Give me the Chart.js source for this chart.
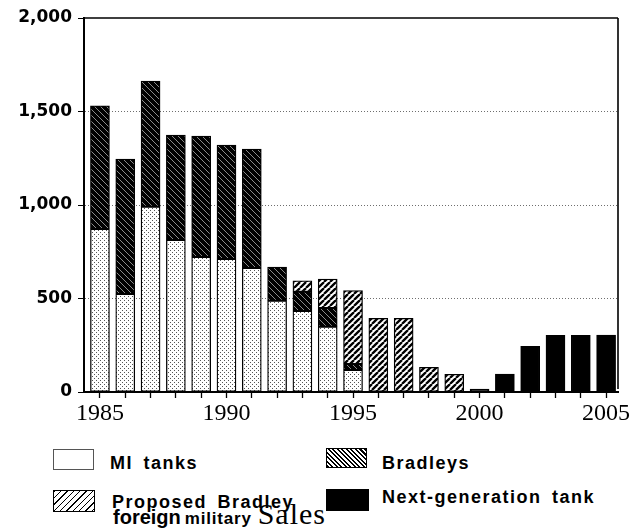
<!DOCTYPE html>
<html>
<head>
<meta charset="utf-8">
<script src="https://cdn.jsdelivr.net/npm/chart.js@4.4.1/dist/chart.umd.min.js"></script>
<style>
  html, body { margin: 0; padding: 0; background: #fff; }
  #wrap { position: relative; width: 633px; height: 530px; overflow: hidden; }
  #c { position: absolute; left: 0; top: 0; }
  .box { position: absolute; box-sizing: border-box; }
  .lbl { position: absolute; font-family: "Liberation Sans", Arial, sans-serif; font-weight: bold;
         font-size: 18px; line-height: 18px; letter-spacing: 1.5px; word-spacing: 4px; color: #000; white-space: nowrap; }
  .line2 { position: absolute; display: flex; align-items: baseline; white-space: nowrap; color: #000; }
  .line2 span { line-height: 1; }
</style>
</head>
<body>
<div id="wrap">
  <canvas id="c" width="633" height="440"></canvas>

  <div class="box" style="left:53px;top:449px;width:41px;height:21px;border:1px solid #555;background:#fff;"></div>
  <div class="lbl" style="left:110px;top:454px;">MI tanks</div>

  <div class="box" style="left:326px;top:448px;width:41px;height:20px;border:1px solid #000;background:repeating-linear-gradient(45deg,#000 0 1.6px,#fff 1.6px 3.2px);"></div>
  <div class="lbl" style="left:382px;top:454px;">Bradleys</div>

  <div class="box" style="left:53px;top:490px;width:42px;height:22px;border:1px solid #000;background:repeating-linear-gradient(135deg,#000 0 1px,#fff 1px 4.5px);"></div>
  <div class="lbl" style="left:112px;top:493px;">Proposed Bradley</div>
  <div class="line2" style="left:113px;top:499px;">
    <span style="font-family:'Liberation Sans',Arial,sans-serif;font-weight:bold;font-size:20px;">foreign</span>
    <span style="font-family:'Liberation Sans',Arial,sans-serif;font-weight:bold;font-size:17px;letter-spacing:0.8px;margin-left:4px;">military</span>
    <span style="font-family:'Liberation Serif','Times New Roman',serif;font-size:30px;letter-spacing:1px;margin-left:6px;">Sales</span>
  </div>

  <div class="box" style="left:326px;top:489px;width:43px;height:22px;background:#000;"></div>
  <div class="lbl" style="left:382px;top:488px;">Next-generation tank</div>
</div>

<script>
// ---- data ----
const years = [1985,1986,1987,1988,1989,1990,1991,1992,1993,1994,1995,1996,1997,1998,1999,2000,2001,2002,2003,2004,2005];
const miTanks   = [872, 524, 991, 813, 722, 711, 663, 488, 433, 349, 118, null, null, null, null, null, null, null, null, null, null];
const bradleys  = [658, 722, 672, 561, 647, 610, 636, 180, 103, 100, 32, null, null, null, null, null, null, null, null, null, null];
const proposed  = [null, null, null, null, null, null, null, null, 59, 155, 392, 394, 394, 132, 95, null, null, null, null, null, null];
const nextGen   = [null, null, null, null, null, null, null, null, null, null, null, null, null, null, null, 15, 96, 244, 303, 303, 305];
const yTicks = [0, 500, 1000, 1500, 2000];
const xLabelYears = [1985, 1990, 1995, 2000, 2005];

// ---- patterns ----
function tile(size, bg, draw) {
  const c = document.createElement('canvas');
  c.width = c.height = size;
  const g = c.getContext('2d');
  g.fillStyle = bg; g.fillRect(0, 0, size, size);
  draw(g, size);
  return document.getElementById('c').getContext('2d').createPattern(c, 'repeat');
}
const dotPattern = tile(4, '#fff', (g) => {
  g.fillStyle = '#555';
  g.fillRect(0, 0, 1, 1); g.fillRect(2, 2, 1, 1);
});
const bradPattern = tile(6, '#000', (g, s) => {
  g.strokeStyle = '#8a8a8a'; g.lineWidth = 1;
  g.beginPath();
  for (let k = -1; k <= 1; k++) { g.moveTo(k * s, 0); g.lineTo(k * s + s, s); }
  g.stroke();
});
const propPattern = tile(6, '#fff', (g, s) => {
  g.strokeStyle = '#000'; g.lineWidth = 2.3;
  g.beginPath();
  for (let k = -1; k <= 1; k++) { g.moveTo(k * s, s); g.lineTo(k * s + s, 0); }
  g.stroke();
});

const frame = {
  id: 'frame',
  afterDraw(chart) {
    const {ctx, chartArea: a} = chart;
    ctx.save();
    ctx.strokeStyle = '#000';
    ctx.lineWidth = 1.6;
    ctx.beginPath();
    ctx.moveTo(a.left, a.top); ctx.lineTo(a.right, a.top);
    ctx.moveTo(a.right, a.top); ctx.lineTo(a.right, a.bottom - 3);
    ctx.stroke();
    ctx.restore();
  }
};

const common = { borderColor: '#000', borderWidth: 1.3, borderSkipped: false, barThickness: 19 };

new Chart(document.getElementById('c'), {
  type: 'bar',
  data: {
    labels: years,
    datasets: [
      Object.assign({ label: 'MI tanks', data: miTanks, backgroundColor: dotPattern }, common),
      Object.assign({ label: 'Bradleys', data: bradleys, backgroundColor: bradPattern }, common),
      Object.assign({ label: 'Proposed Bradley foreign military Sales', data: proposed, backgroundColor: propPattern }, common),
      Object.assign({ label: 'Next-generation tank', data: nextGen, backgroundColor: '#000' }, common)
    ]
  },
  options: {
    responsive: false,
    animation: false,
    layout: { padding: { left: 0, right: 15, top: 18, bottom: 0 } },
    plugins: { legend: { display: false }, tooltip: { enabled: false } },
    scales: {
      x: {
        type: 'linear',
        stacked: true,
        offset: false,
        min: 1984.37,
        max: 2005.47,
        afterBuildTicks: (s) => { s.ticks = years.map(v => ({ value: v })); },
        afterFit: (s) => { s.height = 48; },
        grid: { display: true, offset: false, drawOnChartArea: false, drawTicks: true, tickLength: 6, tickColor: '#000', tickWidth: 1.3 },
        border: { display: true, color: '#000', width: 2 },
        ticks: {
          autoSkip: false, maxRotation: 0, padding: 1, color: '#000',
          font: { family: "'Liberation Serif', 'Times New Roman', serif", size: 24 },
          callback: (v) => xLabelYears.includes(v) ? String(v) : ''
        }
      },
      y: {
        stacked: true,
        min: 0, max: 2000,
        afterBuildTicks: (s) => { s.ticks = yTicks.map(v => ({ value: v })); },
        afterFit: (s) => { s.width = 84; },
        grid: {
          drawOnChartArea: true, drawTicks: true, tickLength: 6, tickColor: '#000', tickWidth: 1,
          color: (ctx) => (ctx.tick && (ctx.tick.value === 0 || ctx.tick.value === 2000)) ? 'rgba(0,0,0,0)' : '#6e6e6e',
          lineWidth: 1
        },
        border: { display: true, color: '#000', width: 2, dash: [1, 2] },
        ticks: {
          padding: 6, color: '#000',
          font: { family: "'DejaVu Sans', sans-serif", size: 17, weight: 'bold' },
          callback: (v) => v.toLocaleString('en-US')
        }
      }
    }
  },
  plugins: [frame]
});
</script>
</body>
</html>
